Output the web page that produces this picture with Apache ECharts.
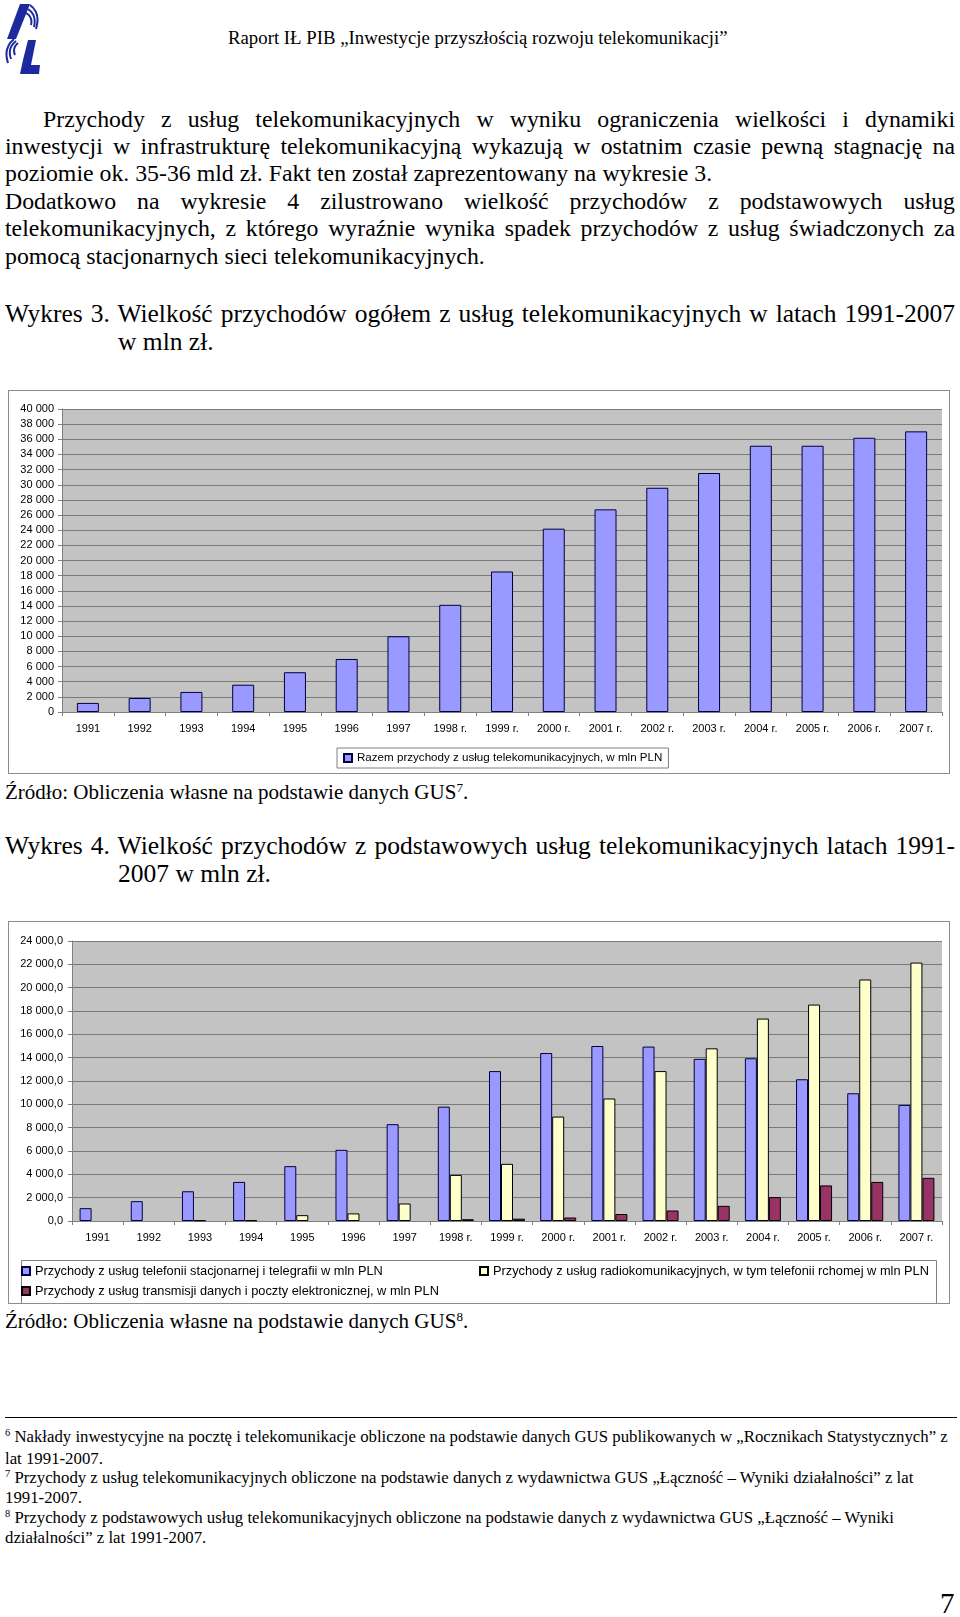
<!DOCTYPE html>
<html lang="pl">
<head>
<meta charset="utf-8">
<script src="https://cdn.jsdelivr.net/npm/echarts@6/dist/echarts.min.js"></script>
<style>
  body { margin: 0; background: #fff; }
  #page { position: relative; width: 960px; height: 1617px; overflow: hidden;
          font-family: "Liberation Serif", "Times New Roman", serif; color: #000; }
  .ln { position: absolute; white-space: nowrap; }
  .just { text-align: justify; text-align-last: justify; white-space: normal; overflow: hidden; }
  .chart { position: absolute; border: 1px solid #8c8c8c; box-sizing: border-box; background: #fff; }
  sup { font-size: 62%; line-height: 0; vertical-align: 0.55em; }
</style>
</head>
<body>
<div id="page">
  <!-- logo -->
  <svg class="ln" style="left:4px;top:3px" width="36" height="72" viewBox="0 0 36 72">
    <polygon points="16,1 26,1 12,36 3,36" fill="#1c2a9e"/>
    <path d="M22,10 q7,4 5,12 M24,6 q9,6 6,18 M26,2 q11,8 6,24" stroke="#1c2a9e" stroke-width="2" fill="none"/>
    <polygon points="24,37 32,37 27,62 36,62 35,71 16,71 19,57" fill="#1c2a9e"/>
    <path d="M14,40 q-6,5 -3,12 M12,38 q-9,7 -5,18 M10,36 q-11,9 -6,24" stroke="#1c2a9e" stroke-width="2" fill="none"/>
  </svg>
  <div class="ln" style="left:228px;top:27px;font-size:18.8px;line-height:22px">Raport IŁ PIB „Inwestycje przyszłością rozwoju telekomunikacji”</div>

  <div class="ln just" style="left:5px;top:106px;width:950px;height:28px;font-size:23.8px;line-height:27px;padding-left:38px;box-sizing:border-box">Przychody z usług telekomunikacyjnych w wyniku ograniczenia wielkości i dynamiki</div>
  <div class="ln just" style="left:5px;top:133px;width:950px;height:28px;font-size:23.8px;line-height:27px">inwestycji w infrastrukturę telekomunikacyjną wykazują w ostatnim czasie pewną stagnację na</div>
  <div class="ln" style="left:5px;top:160px;font-size:23.8px;line-height:27px">poziomie ok. 35-36 mld zł. Fakt ten został zaprezentowany na wykresie 3.</div>
  <div class="ln just" style="left:5px;top:188px;width:950px;height:28px;font-size:23.8px;line-height:27px">Dodatkowo na wykresie 4 zilustrowano wielkość przychodów z podstawowych usług</div>
  <div class="ln just" style="left:5px;top:215px;width:950px;height:28px;font-size:23.8px;line-height:27px">telekomunikacyjnych, z którego wyraźnie wynika spadek przychodów z usług świadczonych za</div>
  <div class="ln" style="left:5px;top:243px;font-size:23.8px;line-height:27px">pomocą stacjonarnych sieci telekomunikacyjnych.</div>

  <div class="ln just" style="left:5px;top:299px;width:950px;height:30px;font-size:25.5px;line-height:29px">Wykres 3. Wielkość przychodów ogółem z usług telekomunikacyjnych w latach 1991-2007</div>
  <div class="ln" style="left:118px;top:327px;font-size:25.5px;line-height:29px">w mln zł.</div>

  <div id="chart1" class="chart" style="left:8px;top:390px;width:942px;height:384px"></div>

  <div class="ln" style="left:5px;top:779px;font-size:21px;line-height:26px">Źródło: Obliczenia własne na podstawie danych GUS<sup>7</sup>.</div>

  <div class="ln just" style="left:5px;top:831px;width:950px;height:30px;font-size:25.5px;line-height:29px">Wykres 4. Wielkość przychodów z podstawowych usług telekomunikacyjnych latach 1991-</div>
  <div class="ln" style="left:118px;top:859px;font-size:25.5px;line-height:29px">2007 w mln zł.</div>

  <div id="chart2" class="chart" style="left:8px;top:921px;width:942px;height:383px"></div>

  <div class="ln" style="left:5px;top:1308px;font-size:21px;line-height:26px">Źródło: Obliczenia własne na podstawie danych GUS<sup>8</sup>.</div>

  <div class="ln" style="left:5px;top:1417px;width:952px;height:0;border-top:1.5px solid #000"></div>
  <div class="ln" style="left:5px;top:1427px;font-size:16.8px;line-height:19px"><sup>6</sup> Nakłady inwestycyjne na pocztę i telekomunikacje obliczone na podstawie danych GUS publikowanych w „Rocznikach Statystycznych” z</div>
  <div class="ln" style="left:5px;top:1449px;font-size:16.8px;line-height:19px">lat 1991-2007.</div>
  <div class="ln" style="left:5px;top:1468px;font-size:16.8px;line-height:19px"><sup>7</sup> Przychody z usług telekomunikacyjnych obliczone na podstawie danych z wydawnictwa GUS „Łączność – Wyniki działalności” z lat</div>
  <div class="ln" style="left:5px;top:1488px;font-size:16.8px;line-height:19px">1991-2007.</div>
  <div class="ln" style="left:5px;top:1508px;font-size:16.8px;line-height:19px"><sup>8</sup> Przychody z podstawowych usług telekomunikacyjnych obliczone na podstawie danych z wydawnictwa GUS „Łączność – Wyniki</div>
  <div class="ln" style="left:5px;top:1528px;font-size:16.8px;line-height:19px">działalności” z lat 1991-2007.</div>

  <div class="ln" style="left:940px;top:1586px;font-size:29px;line-height:34px">7</div>
</div>

<script type="text/javascript">
  // lata (oś X) - identyczne na obu wykresach
  var years = ['1991', '1992', '1993', '1994', '1995', '1996', '1997', '1998 r.', '1999 r.',
    '2000 r.', '2001 r.', '2002 r.', '2003 r.', '2004 r.', '2005 r.', '2006 r.', '2007 r.'];

  // wykres 3 - razem przychody, mln PLN
  var totalName = 'Razem przychody z usług telekomunikacyjnych, w mln PLN';
  var totalRevenue = [1200, 1850, 2650, 3600, 5250, 7000, 10000, 14150, 18550,
    24200, 26750, 29600, 31550, 35150, 35150, 36200, 37050];

  // wykres 4 - podstawowe usługi, mln PLN
  var fixedName = 'Przychody z usług telefonii stacjonarnej i telegrafii w mln PLN';
  var mobileName = 'Przychody z usług radiokomunikacyjnych, w tym telefonii rchomej w mln PLN';
  var dataName = 'Przychody z usług transmisji danych i poczty elektronicznej, w mln PLN';
  var fixedRevenue = [1100, 1700, 2550, 3350, 4700, 6100, 8300, 9800, 12850,
    14400, 15000, 14950, 13900, 13950, 12150, 10950, 9950];
  var mobileRevenue = [0, 0, 60, 60, 500, 650, 1500, 3950, 4900,
    8950, 10500, 12850, 14800, 17350, 18550, 20700, 22150];
  var dataRevenue = [0, 0, 0, 0, 0, 0, 0, 150, 200,
    300, 600, 900, 1300, 2050, 3050, 3350, 3700];

  var FONT = '"Liberation Sans", Arial, sans-serif';

  function spaced(v) {
    return String(Math.round(v)).replace(/\B(?=(\d{3})+(?!\d))/g, ' ');
  }

  function zeroToNull(arr) {
    return arr.map(function (v) { return v === 0 ? null : v; });
  }

  function xAxis() {
    return {
      type: 'category',
      data: years,
      axisLine: { lineStyle: { color: '#808080', width: 1 } },
      axisTick: { show: true, length: 4, lineStyle: { color: '#808080' } },
      axisLabel: { color: '#000', fontSize: 11, fontFamily: FONT, margin: 11, interval: 0 }
    };
  }

  function yAxis(max, fmt, margin) {
    return {
      type: 'value',
      min: 0,
      max: max,
      interval: 2000,
      axisLine: { show: true, lineStyle: { color: '#808080', width: 1 } },
      axisTick: { show: true, length: 4, lineStyle: { color: '#808080' } },
      axisLabel: { color: '#000', fontSize: 11, fontFamily: FONT, margin: margin, formatter: fmt },
      splitLine: { show: true, lineStyle: { color: '#7a7a7a', width: 1 } }
    };
  }

  var chart1 = echarts.init(document.getElementById('chart1'));
  chart1.setOption({
    animation: false,
    grid: { left: 53, right: 7, top: 18, bottom: 61, show: true, backgroundColor: '#c3c3c3', borderWidth: 0 },
    legend: {
      data: [totalName],
      left: 328, top: 357,
      padding: [4, 6],
      borderColor: '#808080', borderWidth: 1,
      itemWidth: 8, itemHeight: 8, icon: 'rect',
      textStyle: { fontSize: 11.6, fontFamily: FONT, color: '#000' }
    },
    xAxis: xAxis(),
    yAxis: yAxis(40000, function (v) { return spaced(v); }, 8),
    series: [{
      name: totalName,
      type: 'bar',
      barWidth: 22,
      data: totalRevenue,
      itemStyle: { color: '#9999ff', borderColor: '#000040', borderWidth: 1 }
    }]
  });

  var chart2 = echarts.init(document.getElementById('chart2'));
  var legendBase = {
    itemWidth: 8, itemHeight: 8, icon: 'rect',
    padding: 0,
    textStyle: { fontSize: 12.8, fontFamily: FONT, color: '#000', lineHeight: 14 }
  };
  chart2.setOption({
    animation: false,
    grid: { left: 63, right: 7, top: 19, bottom: 82, show: true, backgroundColor: '#c3c3c3', borderWidth: 0 },
    graphic: [{
      type: 'rect', left: 10, top: 336, silent: true,
      shape: { width: 915, height: 43 },
      style: { fill: 'none', stroke: '#808080', lineWidth: 1 }
    }],
    legend: [
      Object.assign({ data: [fixedName, dataName], left: 12, top: 342, orient: 'vertical', itemGap: 6 }, legendBase),
      Object.assign({ data: [mobileName], left: 470, top: 342 }, legendBase)
    ],
    xAxis: xAxis(),
    yAxis: yAxis(24000, function (v) { return spaced(v) + ',0'; }, 9),
    series: [{
      name: fixedName,
      type: 'bar',
      barWidth: 12,
      barGap: '0%',
      data: zeroToNull(fixedRevenue),
      itemStyle: { color: '#9999ff', borderColor: '#000040', borderWidth: 1 }
    }, {
      name: mobileName,
      type: 'bar',
      barWidth: 12,
      barGap: '0%',
      data: zeroToNull(mobileRevenue),
      itemStyle: { color: '#ffffcc', borderColor: '#000000', borderWidth: 1 }
    }, {
      name: dataName,
      type: 'bar',
      barWidth: 12,
      barGap: '0%',
      data: zeroToNull(dataRevenue),
      itemStyle: { color: '#993366', borderColor: '#000000', borderWidth: 1 }
    }]
  });
</script>
</body>
</html>
